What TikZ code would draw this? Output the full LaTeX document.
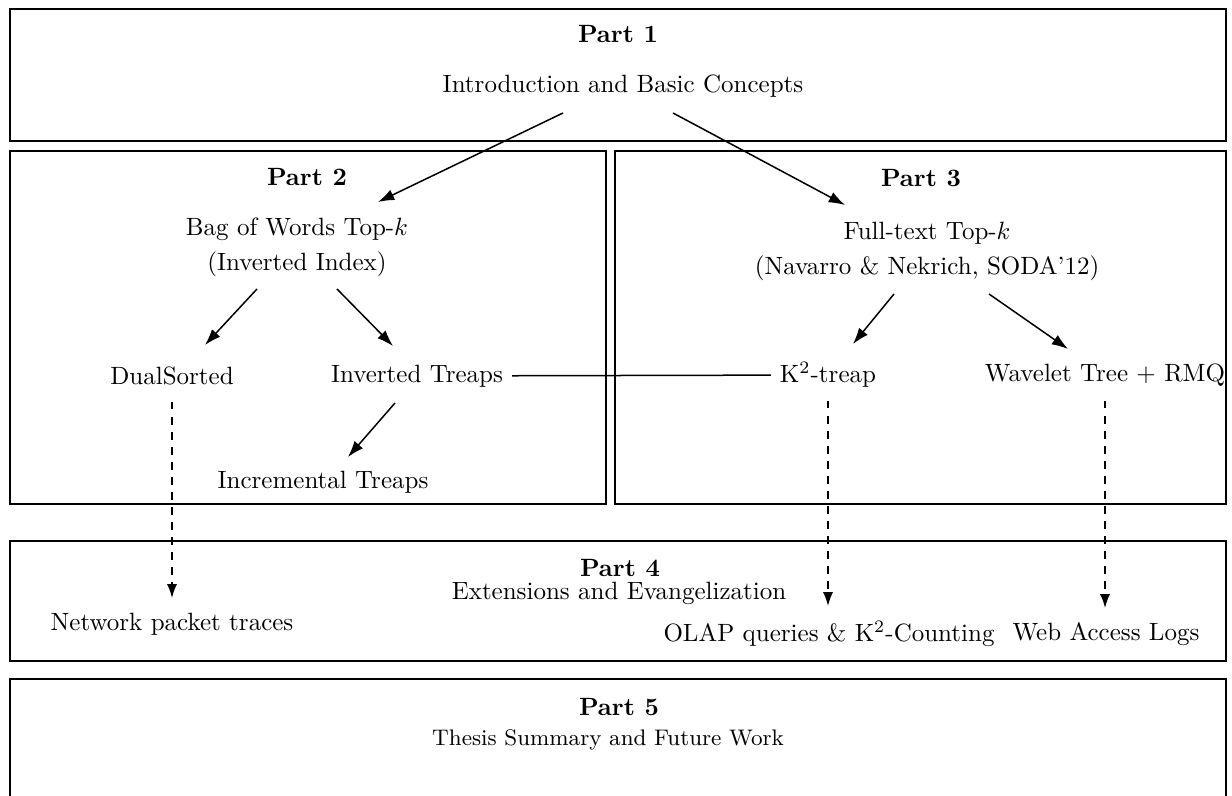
\documentclass[tikz,border=0pt]{standalone}
\usetikzlibrary{calc,arrows.meta}
\tikzset{
	part/.style={font=\bfseries},
	arr/.style={-{Latex[length=6.5pt,width=4.5pt]}},
	darr/.style={-{Latex[length=5.5pt,width=4pt]},dashed}
}
\begin{document}
\begin{tikzpicture}[x=0.01405cm,y=-0.01405cm,semithick]
		\useasboundingbox (0,0) rectangle (1232,796);
		\draw (10,9) rectangle (1226,141);
		\draw (10,151) rectangle (606,504);
		\draw (615,151) rectangle (1226,504);
		\draw (10,541) rectangle (1226,661);
		\draw (10,679) rectangle (1226,830);
		\node[part] (p1) at (618,34) {Part 1};
		\node (intro) at (623,86) {Introduction and Basic Concepts};
		\node[part] (p2) at (307,177) {Part 2};
		\node[align=center] (bag) at (297,247) {Bag of Words Top-$k$\\[2pt](Inverted Index)};
		\node[part] (p3) at (921,178) {Part 3};
		\node[align=center] (full) at (927,251) {Full-text Top-$k$\\[2pt](Navarro \& Nekrich, SODA'12)};
		\node (dual) at (172,376) {DualSorted};
		\node (itreap) at (417,376) {Inverted Treaps};
		\node (incr) at (323,482) {Incremental Treaps};
		\node (ktreap) at (828,375) {K$^2$-treap};
		\node (wt) at (1105,375) {Wavelet Tree $+$ RMQ};
		\node[part] (p4) at (620,568) {Part 4};
		\node (ext) at (619,593) {Extensions and Evangelization};
		\node (net) at (172,624) {Network packet traces};
		\node (olap) at (829,634) {OLAP queries \& K$^2$-Counting};
		\node (web) at (1106,634) {Web Access Logs};
		\node[part] (p5) at (619,707) {Part 5};
		\node[font=\small] (sum) at (608,740) {Thesis Summary and Future Work};
		\draw[arr] ($(intro)+(-60,27)$) -- ($(bag)+(81,-45)$);
		\draw[arr] ($(intro)+(50,27)$) -- ($(full)+(-82,-46)$);
		\draw[arr] ($(bag)+(-40,42)$) -- ($(dual)+(33,-31)$);
		\draw[arr] ($(bag)+(40,42)$) -- ($(itreap)+(-24,-30)$);
		\draw[arr] ($(itreap)+(-22,27)$) -- ($(incr)+(25,-25)$);
		\draw[arr] ($(full)+(-33,43)$) -- ($(ktreap)+(25,-31)$);
		\draw[arr] ($(full)+(62,43)$) -- ($(wt)+(-37,-26)$);
		\draw (itreap) -- (ktreap);
		\draw[darr] ($(dual)+(0,26)$) -- ($(net)+(0,-26)$);
		\draw[darr] ($(ktreap)+(0,26)$) -- ($(olap)+(-1,-28)$);
		\draw[darr] ($(wt)+(0,26)$) -- ($(web)+(-1,-26)$);
	\end{tikzpicture}
\end{document}
